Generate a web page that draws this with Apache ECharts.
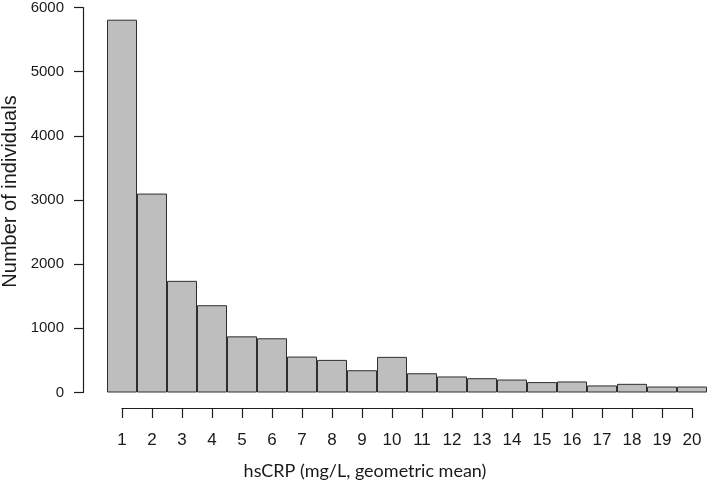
<!DOCTYPE html>
<html>
<head>
<meta charset="utf-8">
<script src="https://cdn.jsdelivr.net/npm/echarts@6/dist/echarts.min.js"></script>
<style>
html,body{margin:0;padding:0;background:#fff;}
#chart{width:709px;height:490px;}
</style>
</head>
<body>
<div id="chart"></div>
<script>
const categories = ['1','2','3','4','5','6','7','8','9','10','11','12','13','14','15','16','17','18','19','20'];
const counts = [5810, 3100, 1740, 1360, 875, 845, 560, 508, 347, 555, 300, 250, 223, 202, 162, 172, 110, 135, 93, 93];
const yTicks = [0, 1000, 2000, 3000, 4000, 5000, 6000];
const xTitle = 'hsCRP (mg/L, geometric mean)';
const yTitle = 'Number of individuals';

const chart = echarts.init(document.getElementById('chart'), null, {renderer: 'canvas'});
const ink = '#1e1e1e';
chart.setOption({
  animation: false,
  backgroundColor: '#ffffff',
  grid: [
    {left: 107, right: 2, top: 7, bottom: 97.5},
    {left: 122, right: 17, top: 406, bottom: 82}
  ],
  xAxis: [
    {type: 'category', gridIndex: 0, data: categories, boundaryGap: true,
     axisLine: {show: false}, axisTick: {show: false}, axisLabel: {show: false}, splitLine: {show: false}},
    {type: 'category', gridIndex: 1, data: categories, boundaryGap: false, position: 'bottom',
     axisLine: {show: true, lineStyle: {color: ink, width: 1.2}},
     axisTick: {show: true, length: 10, lineStyle: {color: ink, width: 1.2}, interval: 0},
     axisLabel: {show: true, interval: 0, margin: 24, color: '#1a1a1a',
                 fontFamily: '"Liberation Sans Narrow", "Liberation Sans", Arial, sans-serif', fontSize: 17},
     splitLine: {show: false}}
  ],
  yAxis: [
    {type: 'value', gridIndex: 0, min: yTicks[0], max: yTicks[yTicks.length - 1], interval: yTicks[1] - yTicks[0],
     offset: 24,
     axisLine: {show: true, lineStyle: {color: ink, width: 1.2}},
     axisTick: {show: true, length: 9, lineStyle: {color: ink, width: 1.2}},
     axisLabel: {margin: 19, color: '#1a1a1a', fontFamily: '"Liberation Sans", Arial, sans-serif', fontSize: 15,
                 formatter: function (v) { return String(v); }},
     splitLine: {show: false}},
    {type: 'value', gridIndex: 1, min: 0, max: 1, show: false}
  ],
  graphic: [
    {type: 'text', x: 10, y: 191.5, rotation: Math.PI / 2,
     style: {text: yTitle, fill: '#1a1a1a', font: '20px "Liberation Sans", Arial, sans-serif',
             align: 'center', verticalAlign: 'middle', textAlign: 'center', textVerticalAlign: 'middle'}},
    {type: 'text', x: 365, y: 471,
     style: {text: xTitle, fill: '#1a1a1a', font: '18px Lato, "Open Sans", sans-serif',
             align: 'center', verticalAlign: 'middle', textAlign: 'center', textVerticalAlign: 'middle'}}
  ],
  series: [
    {type: 'bar', xAxisIndex: 0, yAxisIndex: 0, data: counts, barCategoryGap: '0%',
     itemStyle: {color: '#bebebe', borderColor: '#2e2e2e', borderWidth: 1},
     emphasis: {disabled: true}},
    {type: 'scatter', xAxisIndex: 1, yAxisIndex: 1, data: [], silent: true}
  ]
});
</script>
</body>
</html>
